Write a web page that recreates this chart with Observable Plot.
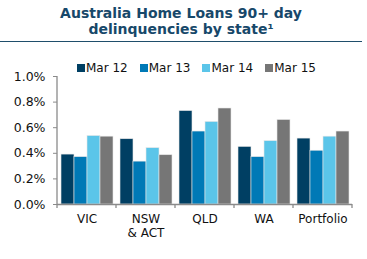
<!DOCTYPE html>
<html>
<head>
<meta charset="utf-8">
<script src="https://cdn.jsdelivr.net/npm/d3@7"></script>
<script src="https://cdn.jsdelivr.net/npm/@observablehq/plot@0.6"></script>
<style>
  html, body { margin: 0; padding: 0; background: #fff; }
  #wrap { position: relative; width: 367px; height: 259px; overflow: hidden; font-family: "DejaVu Sans", Verdana, sans-serif; }
  #title { position: absolute; left: 0; top: 5px; width: 362px; text-align: center; font-weight: bold; font-size: 14px; line-height: 16px; color: #17486a; }
  #rule { position: absolute; left: 0; top: 41px; width: 362px; height: 0; border-top: 1.5px solid #1f4e6b; }
  #legend { position: absolute; left: 77px; top: 61px; font-size: 12px; line-height: 14px; color: #111; white-space: nowrap; }
  .item { display: inline-flex; align-items: center; margin-right: 12px; }
  .sw { display: inline-block; width: 8px; height: 8px; margin-right: 1px; }
  #chart { position: absolute; left: 0; top: 56px; }
</style>
</head>
<body>
<div id="wrap">
  <div id="title">Australia Home Loans 90+ day<br>delinquencies by state¹</div>
  <div id="rule"></div>
  <div id="chart"></div>
  <div id="legend"></div>
</div>
<script>
const categories = ["VIC", "NSW\n& ACT", "QLD", "WA", "Portfolio"];
const series = ["Mar 12", "Mar 13", "Mar 14", "Mar 15"];
const mar12 = [0.39, 0.51, 0.73, 0.45, 0.515];
const mar13 = [0.37, 0.335, 0.57, 0.37, 0.42];
const mar14 = [0.535, 0.44, 0.645, 0.495, 0.53];
const mar15 = [0.53, 0.385, 0.75, 0.66, 0.57];
const seriesColors = ["#003f63", "#0079b6", "#5bc5e9", "#767676"];
const yTicks = [0, 0.2, 0.4, 0.6, 0.8, 1.0];

const allSeries = [mar12, mar13, mar14, mar15];
const data = [];
categories.forEach((c, i) => {
  series.forEach((s, j) => data.push({category: c, series: s, value: allSeries[j][i]}));
});

// legend
const legend = document.getElementById("legend");
series.forEach((s, j) => {
  const it = document.createElement("span");
  it.className = "item";
  const sw = document.createElement("span");
  sw.className = "sw";
  sw.style.background = seriesColors[j];
  it.appendChild(sw);
  it.appendChild(document.createTextNode(s));
  legend.appendChild(it);
});

const axisColor = "#8a8a8a";
const plot = Plot.plot({
  width: 367,
  height: 203,
  marginTop: 20,
  marginLeft: 57,
  marginRight: 15,
  marginBottom: 55,
  style: {fontFamily: "DejaVu Sans, Verdana, sans-serif", fontSize: "12px", color: "#111", background: "transparent"},
  fx: {domain: categories, padding: 0, label: null},
  x: {domain: series, paddingInner: 0, paddingOuter: 0.23, axis: null},
  y: {domain: [0, 1], label: null},
  color: {domain: series, range: seriesColors},
  marks: [
    Plot.barY(data, {fx: "category", x: "series", y: "value", fill: "series", stroke: "#e6e6e6", strokeWidth: 0.6}),
    Plot.ruleY([0], {stroke: axisColor, strokeWidth: 1.3}),
    Plot.axisY({ticks: yTicks, tickFormat: d => d.toFixed(1) + "%", tickSize: 4, tickPadding: 8, stroke: axisColor, fill: "#111", label: null, fontSize: 12.5}),
    Plot.axisFx({anchor: "bottom", tickSize: 0, tickPadding: 9, label: null, lineHeight: 1.15, fill: "#111", fontSize: 12})
  ]
});
document.getElementById("chart").appendChild(plot);

// axis line and category boundary ticks drawn from the library's scales
const fx = plot.scale("fx");
const y = plot.scale("y");
const svg = d3.select(plot);
const y0 = y.apply(0), y1 = y.apply(1);
const left = fx.apply(categories[0]);
svg.append("line").attr("x1", left).attr("x2", left).attr("y1", y0).attr("y2", y1)
  .attr("stroke", axisColor).attr("stroke-width", 1.3);
const bounds = categories.map(c => fx.apply(c)).concat([fx.apply(categories[categories.length - 1]) + fx.bandwidth]);
svg.append("g").selectAll("line").data(bounds).join("line")
  .attr("x1", d => d).attr("x2", d => d).attr("y1", y0).attr("y2", y0 + 4)
  .attr("stroke", axisColor).attr("stroke-width", 1.3);
</script>
</body>
</html>
